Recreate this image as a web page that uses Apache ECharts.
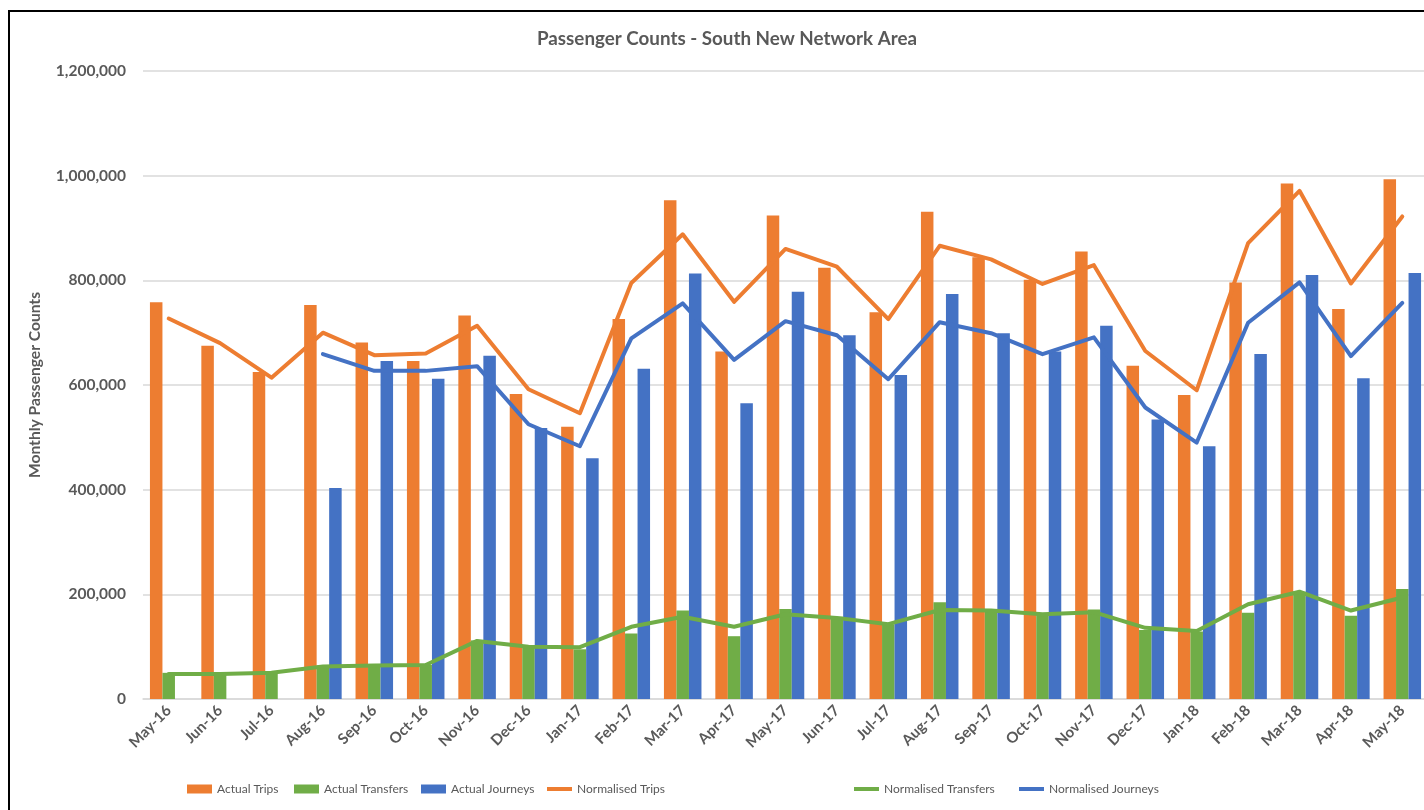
<!DOCTYPE html>
<html>
<head>
<meta charset="utf-8">
<title>Passenger Counts - South New Network Area</title>
<script src="https://cdn.jsdelivr.net/npm/echarts@6/dist/echarts.min.js"></script>
<style>
  html, body { margin: 0; padding: 0; background: #fff; }
  .frame {
    position: absolute; left: 8px; top: 10px; width: 1500px; height: 900px;
    border-left: 2px solid #000; border-top: 2px solid #000;
  }
  #chart { position: absolute; left: 0; top: 0; width: 1424px; height: 810px; }
</style>
</head>
<body>
<div class="frame"></div>
<div id="chart"></div>
<script>
// data
const categories = ['May-16', 'Jun-16', 'Jul-16', 'Aug-16', 'Sep-16', 'Oct-16', 'Nov-16', 'Dec-16',
  'Jan-17', 'Feb-17', 'Mar-17', 'Apr-17', 'May-17', 'Jun-17', 'Jul-17', 'Aug-17', 'Sep-17', 'Oct-17',
  'Nov-17', 'Dec-17', 'Jan-18', 'Feb-18', 'Mar-18', 'Apr-18', 'May-18']

const actualTrips = [758000, 675000, 625000, 753000, 681000, 646000, 733000, 583000, 520000, 726000,
  953000, 664000, 924000, 824000, 739000, 931000, 844000, 801000, 855000, 637000, 581000, 796000,
  985000, 745000, 993000]
const actualTransfers = [50000, 50000, 50000, 64000, 64000, 65000, 112000, 101000, 95000, 125000,
  169000, 120000, 172000, 157000, 143000, 185000, 170000, 164000, 171000, 132000, 129000, 165000,
  205000, 159000, 210000]
const actualJourneys = [null, null, null, 403000, 646000, 612000, 656000, 518000, 460000, 631000,
  813000, 565000, 778000, 695000, 619000, 774000, 699000, 664000, 713000, 534000, 483000, 659000,
  810000, 613000, 814000]

const normTrips = [727000, 680000, 614000, 700000, 657000, 660000, 713000, 592000, 546000, 795000,
  888000, 759000, 860000, 826000, 726000, 866000, 840000, 793000, 829000, 665000, 590000, 871000,
  971000, 794000, 922000]
const normTransfers = [48000, 48000, 50000, 62000, 64000, 65000, 111000, 100000, 99000, 138000,
  157000, 138000, 162000, 155000, 143000, 170000, 169000, 162000, 166000, 136000, 130000, 181000,
  205000, 169000, 194000]
const normJourneys = [null, null, null, 659000, 627000, 627000, 636000, 525000, 483000, 689000,
  756000, 648000, 722000, 695000, 611000, 720000, 699000, 659000, 691000, 557000, 490000, 719000,
  796000, 655000, 757000]

const yTicks = [0, 200000, 400000, 600000, 800000, 1000000, 1200000]

const orange = '#ED7D31'
const green = '#70AD47'
const blue = '#4472C4'
const textColor = '#595959'
const font = 'Lato, "Liberation Sans", sans-serif'

const myChart = echarts.init(document.getElementById('chart'), null, { renderer: 'canvas' })

// one legend per entry so each sits where Excel put it
const legendPos = [
  ['Actual Trips', 187, 9, 783], ['Actual Transfers', 294, 9, 783], ['Actual Journeys', 421, 9, 783],
  ['Normalised Trips', 547, 4, 783], ['Normalised Transfers', 854, 4, 783], ['Normalised Journeys', 1019, 4, 783]
]
const legends = legendPos.map(([name, x, h, top]) => ({
  data: [{ name: name, icon: 'rect' }],
  left: x,
  top: top,
  height: 12,
  padding: 0,
  itemWidth: 25,
  itemHeight: h,
  textStyle: { color: textColor, fontSize: 12, fontFamily: font, lineHeight: 12 }
}))

const barSeries = (name, data, color) => ({
  name: name,
  type: 'bar',
  data: data,
  barGap: '0%',
  barCategoryGap: '27%',
  itemStyle: { color: color },
  emphasis: { disabled: true }
})

const lineSeries = (name, data, color) => ({
  name: name,
  type: 'line',
  data: data,
  symbol: 'none',
  connectNulls: false,
  lineStyle: { color: color, width: 4, cap: 'round', join: 'round' },
  itemStyle: { color: color },
  z: 3,
  emphasis: { disabled: true }
})

const option = {
  animation: false,
  title: {
    text: 'Passenger Counts - South New Network Area',
    left: 537,
    top: 29,
    padding: 0,
    textStyle: { color: textColor, fontSize: 18.8, fontWeight: 'bold', fontFamily: font }
  },
  legend: legends,
  grid: {
    left: 143,
    top: 71,
    width: 1285,
    height: 628,
    containLabel: false,
    outerBoundsMode: 'none'
  },
  xAxis: {
    type: 'category',
    data: categories,
    boundaryGap: true,
    axisTick: { show: false },
    axisLine: { lineStyle: { color: '#D9D9D9', width: 1.5 } },
    axisLabel: {
      interval: 0,
      rotate: 45,
      margin: 9,
      color: textColor,
      fontSize: 15,
      fontWeight: 'bold',
      fontFamily: font
    }
  },
  yAxis: {
    type: 'value',
    min: yTicks[0],
    max: yTicks[yTicks.length - 1],
    interval: yTicks[1] - yTicks[0],
    name: 'Monthly Passenger Counts',
    nameLocation: 'middle',
    nameGap: 100,
    nameTextStyle: { color: textColor, fontSize: 15.6, fontWeight: 'bold', fontFamily: font },
    axisLine: { show: false },
    axisTick: { show: false },
    axisLabel: {
      margin: 17,
      color: textColor,
      fontSize: 15.5,
      fontWeight: 'bold',
      fontFamily: font,
      formatter: v => v.toLocaleString('en-US')
    },
    splitLine: { lineStyle: { color: '#D9D9D9', width: 1.5 } }
  },
  series: [
    barSeries('Actual Trips', actualTrips, orange),
    barSeries('Actual Transfers', actualTransfers, green),
    barSeries('Actual Journeys', actualJourneys, blue),
    lineSeries('Normalised Trips', normTrips, orange),
    lineSeries('Normalised Transfers', normTransfers, green),
    lineSeries('Normalised Journeys', normJourneys, blue)
  ]
}

myChart.setOption(option)
</script>
</body>
</html>
